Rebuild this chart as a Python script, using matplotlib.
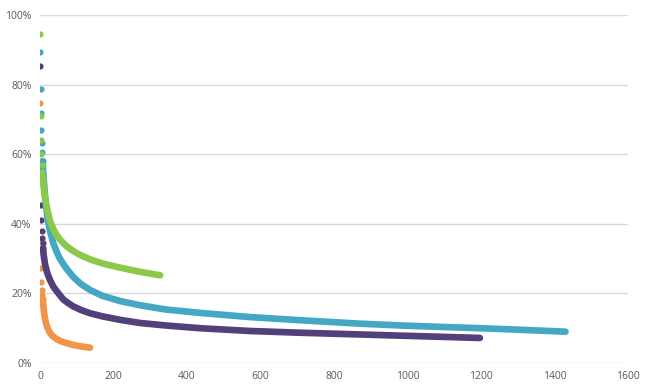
import matplotlib
matplotlib.use("Agg")
import matplotlib.pyplot as plt
from matplotlib.ticker import FuncFormatter

# ---- data (x = item index, y = percent) ----
orange_sparse_x = [1, 2, 3, 4, 5, 6, 7]
orange_sparse_y = [74.6, 34.8, 27.3, 23.3, 21.0, 19.5, 18.5]
orange_x = [7, 8, 10, 12, 14, 17, 20, 24, 27, 32, 36, 45, 54, 63, 73, 90, 110, 136]
orange_y = [18.5, 17.5, 15.5, 13.8, 12.5, 11.2, 10.2, 9.3, 8.7, 8.0, 7.6, 6.9, 6.4, 6.0, 5.7, 5.2, 4.8, 4.4]

purple_sparse_x = [1, 2, 3, 4, 5, 6, 7, 8]
purple_sparse_y = [85.3, 53.7, 45.5, 41.0, 38.0, 36.0, 34.5, 33.0]
purple_x = [8, 10, 14, 20, 27, 36, 45, 54, 63, 73, 90, 110, 136, 170, 218, 272, 340, 435,
            571, 707, 871, 1000, 1100, 1197]
purple_y = [33.0, 31.0, 28.2, 25.8, 23.9, 22.0, 20.7, 19.5, 18.3, 17.5, 16.3, 15.3, 14.3, 13.4,
            12.4, 11.5, 10.8, 10.0, 9.2, 8.7, 8.2, 7.8, 7.5, 7.2]

blue_sparse_x = [1, 2, 3, 4, 5, 6, 7]
blue_sparse_y = [89.4, 78.7, 71.8, 67.0, 63.2, 60.5, 58.0]
blue_x = [7, 8, 10, 14, 20, 27, 36, 45, 54, 63, 73, 90, 110, 136, 170, 218, 272, 340, 435,
          571, 707, 871, 1000, 1250, 1430]
blue_y = [58.0, 56.0, 53.0, 47.5, 42.0, 38.0, 34.5, 32.0, 30.0, 28.5, 27.0, 24.8, 22.8, 21.0,
          19.3, 17.8, 16.6, 15.4, 14.4, 13.2, 12.3, 11.3, 10.7, 9.8, 9.0]

green_sparse_x = [1, 2, 3, 4, 5, 6, 7]
green_sparse_y = [94.5, 71.0, 64.0, 60.0, 57.0, 55.0, 53.5]
green_x = [7, 8, 10, 14, 20, 27, 36, 45, 54, 63, 73, 90, 110, 136, 170, 218, 272, 327]
green_y = [53.5, 52.5, 50.5, 47.5, 44.0, 41.0, 38.5, 36.8, 35.5, 34.5, 33.5, 32.2, 31.0, 29.8,
           28.6, 27.4, 26.2, 25.2]

x_ticks = [0, 200, 400, 600, 800, 1000, 1200, 1400, 1600]
y_ticks = [0, 20, 40, 60, 80, 100]

series = [
    (orange_sparse_x, orange_sparse_y, orange_x, orange_y, "#F29549"),
    (purple_sparse_x, purple_sparse_y, purple_x, purple_y, "#51407A"),
    (blue_sparse_x, blue_sparse_y, blue_x, blue_y, "#44A8C4"),
    (green_sparse_x, green_sparse_y, green_x, green_y, "#8CC94A"),
]

fig = plt.figure(figsize=(6.5, 3.88), dpi=100)
ax = fig.add_axes([40 / 650, 25 / 388, 588 / 650, 348 / 388])

for sx, sy, dx, dy, col in series:
    ax.scatter(sx, sy, s=20, color=col, linewidths=0, zorder=3)
    ax.plot(dx, dy, color=col, lw=4.8, solid_capstyle="round",
            solid_joinstyle="round", zorder=3)

ax.set_xlim(0, 1600)
ax.set_ylim(0, 100)
ax.set_xticks(x_ticks)
ax.set_yticks(y_ticks)
ax.yaxis.set_major_formatter(FuncFormatter(lambda v, p: f"{int(v)}%"))
ax.grid(axis="y", color="#D9D9D9", lw=1)
ax.set_axisbelow(True)
for s in ax.spines.values():
    s.set_visible(False)
ax.tick_params(length=0, labelsize=7.5, labelcolor="#595959", pad=6)
for lab in ax.get_xticklabels() + ax.get_yticklabels():
    lab.set_fontfamily("Open Sans")

fig.savefig("out.png", dpi=100)
